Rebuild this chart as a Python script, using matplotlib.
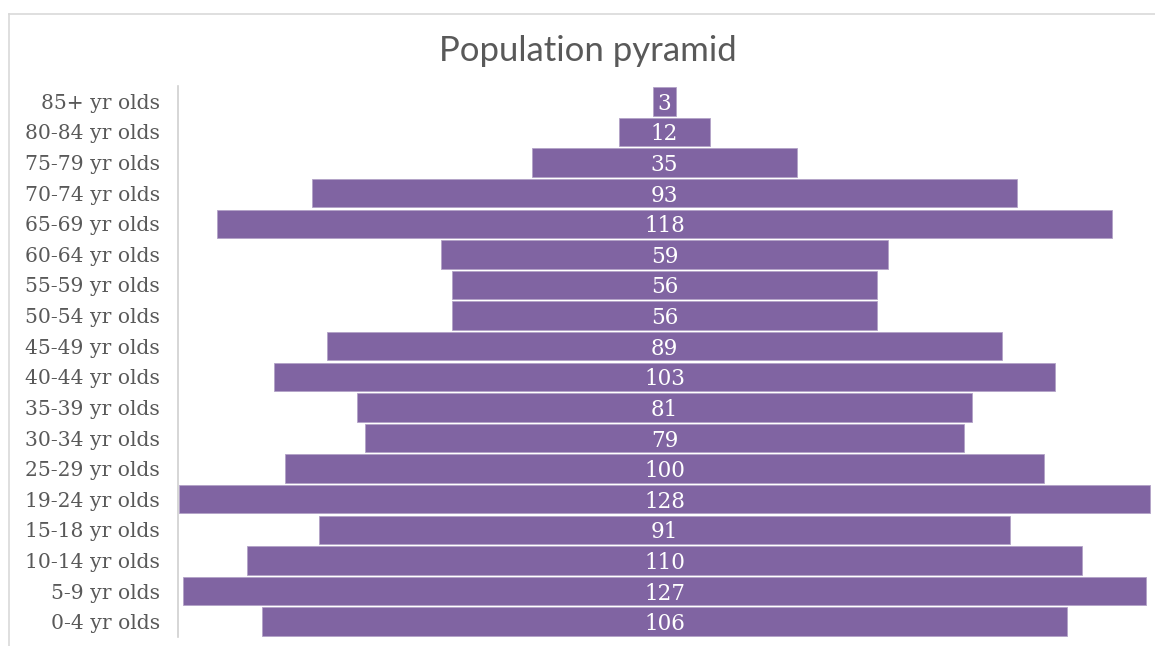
import numpy as np
import matplotlib.pyplot as plt
from matplotlib.lines import Line2D

groups = ['0-4 yr olds', '5-9 yr olds', '10-14 yr olds', '15-18 yr olds',
          '19-24 yr olds', '25-29 yr olds', '30-34 yr olds', '35-39 yr olds',
          '40-44 yr olds', '45-49 yr olds', '50-54 yr olds', '55-59 yr olds',
          '60-64 yr olds', '65-69 yr olds', '70-74 yr olds', '75-79 yr olds',
          '80-84 yr olds', '85+ yr olds']
counts = [106, 127, 110, 91, 128, 100, 79, 81, 103, 89, 56, 56, 59, 118, 93, 35, 12, 3]

purple = '#8064a2'
grey = '#595959'

fig = plt.figure(figsize=(11.55, 6.46), dpi=100)
W, H = 1155, 646
ax = fig.add_axes([178 / W, (H - 637) / H, (1151 - 178) / W, (637 - 86) / H])

vals = np.array(counts)
y = np.arange(len(groups))
bars = ax.barh(y, vals, left=-vals / 2, height=0.93, color=purple,
               edgecolor='#b3a2c7', linewidth=0.6)
for yi, v in zip(y, vals):
    ax.text(0, yi, str(v), ha='center', va='center_baseline', color='white',
            fontsize=15.5, family='DejaVu Serif')

ax.set_xlim(-64.1, 64.1)
ax.set_ylim(-0.5, len(groups) - 0.5)
ax.set_yticks(y)
ax.set_yticklabels(groups, fontsize=14.6, family='DejaVu Serif', color=grey)
ax.tick_params(axis='y', length=0, pad=13)
ax.set_xticks([])
for s in ['top', 'right', 'bottom']:
    ax.spines[s].set_visible(False)
ax.spines['left'].set_color('#d0d0d0')
ax.spines['left'].set_linewidth(1.2)

fig.text(588 / W, 1 - 51 / H, 'Population pyramid', ha='center', va='center',
         fontsize=25, family='Lato', color=grey)

# chart frame (partly cropped)
fig.add_artist(Line2D([8.5 / W, 1], [1 - 14 / H, 1 - 14 / H], color='#d9d9d9', lw=1.2,
                      transform=fig.transFigure))
fig.add_artist(Line2D([8.5 / W, 8.5 / W], [0, 1 - 14 / H], color='#d9d9d9', lw=1.2,
                      transform=fig.transFigure))

fig.savefig('out.png', dpi=100)
